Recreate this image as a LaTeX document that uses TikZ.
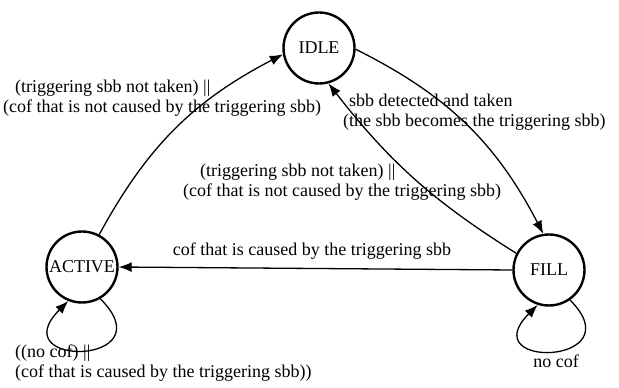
\documentclass[tikz,border=0pt]{standalone}
\usepackage{fontspec}
\setmainfont{Liberation Serif}
\usetikzlibrary{arrows.meta, positioning}

\begin{document}
\begin{tikzpicture}[x=1pt, y=1pt, >={Latex[length=13pt, width=10pt]}, font=\fontsize{18}{20.5}\selectfont]
    \tikzstyle{fsmstate} = [circle, draw, line width=2.4pt, minimum size=71pt, inner sep=0pt]
    \tikzstyle{fsmedge} = [draw, ->, line width=1.3pt]
    \tikzstyle{fsmlabel} = [align=left, inner sep=0pt]

    \useasboundingbox (0,0) rectangle (619,388);

    \node [fsmstate] (idle) at (319,340) {IDLE};
    \node [fsmstate] (active) at (82,121) {ACTIVE};
    \node [fsmstate] (fill) at (549,118) {FILL};

    \path [fsmedge] (active.62) to [bend left=17] (idle.190);
    \path [fsmedge] (idle.-2) to [bend left=18] (fill.99);
    \path [fsmedge] (fill.153) to [bend left=10] (idle.285);
    \path [fsmedge] (fill.west) -- (active.east);
    \path [fsmedge] (active.-60) .. controls +(-45:95) and +(-135:95) .. (active.-112);
    \path [fsmedge] (fill.-55) .. controls +(-45:92) and +(-135:92) .. (fill.-108);

    % multi-line labels: base = last line
    \node [fsmlabel, anchor=base west] (lblai) at (3,275) {\hspace*{12pt}(triggering sbb not taken) ||\\(cof that is not caused by the triggering sbb)};
    \node [fsmlabel, anchor=base west] (lblfi) at (183,191) {\hspace*{17pt}(triggering sbb not taken) ||\\(cof that is not caused by the triggering sbb)};
    \node [fsmlabel, anchor=base west] (lblif) at (343,261) {\hspace*{6pt}sbb detected and taken\\(the sbb becomes the triggering sbb)};
    \node [anchor=base, inner sep=0pt] (lblfa) at (312,132) {cof that is caused by the triggering sbb};
    \node [fsmlabel, anchor=base west] (lblaa) at (15,10) {((no cof) ||\\(cof that is caused by the triggering sbb))};
    \node [anchor=base, inner sep=0pt] (lblff) at (556,20) {no cof};
\end{tikzpicture}
\end{document}
